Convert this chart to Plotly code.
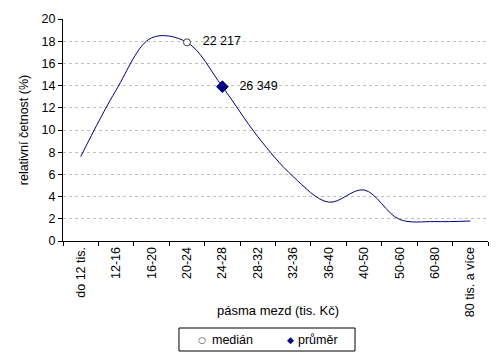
import plotly.graph_objects as go

categories = ["do 12 tis.", "12-16", "16-20", "20-24", "24-28", "28-32", "32-36",
              "36-40", "40-50", "50-60", "60-80", "80 tis. a více"]
values = [7.6, 13.6, 18.3, 17.9, 13.9, 9.4, 5.8, 3.5, 4.6, 1.95, 1.75, 1.8]

median_cat = "20-24"
median_label = "22 217"
mean_cat = "24-28"
mean_label = "26 349"

median_val = values[categories.index(median_cat)]
mean_val = values[categories.index(mean_cat)]

font = "Liberation Sans, Arial, sans-serif"
fs = 12.5

fig = go.Figure()
fig.add_trace(go.Scatter(x=categories, y=values, mode="lines",
                         line=dict(color="#000080", width=1, shape="spline", smoothing=1),
                         showlegend=False, hoverinfo="skip"))
fig.add_trace(go.Scatter(x=[median_cat], y=[median_val], mode="markers+text",
                         name="medián", text=["   " + median_label], textposition="middle right",
                         textfont=dict(size=fs, color="black", family=font),
                         showlegend=False,
                         marker=dict(symbol="circle", size=7, color="white",
                                     line=dict(color="#404040", width=1))))
fig.add_trace(go.Scatter(x=[mean_cat], y=[mean_val], mode="markers+text",
                         name="průměr", text=["   " + mean_label], textposition="middle right",
                         textfont=dict(size=fs, color="black", family=font),
                         showlegend=False,
                         marker=dict(symbol="diamond", size=9, color="#000080",
                                     line=dict(color="#000080", width=1))))

# legend box drawn as shape + annotations (paper coordinates)
legend_items = [
    dict(symbol="○", color="#404040", label="medián", sx=0.3264, tx=0.3459),
    dict(symbol="◆", color="#000080", label="průměr", sx=0.5358, tx=0.5482),
]
ly = -0.4437
annotations = [dict(text="pásma mezd (tis. Kč)", xref="paper", yref="paper",
                    x=0.507, y=-0.311, xanchor="center", yanchor="middle",
                    showarrow=False, font=dict(size=fs + 0.5, family=font))]
for it in legend_items:
    annotations.append(dict(text=it["symbol"], xref="paper", yref="paper", x=it["sx"], y=ly,
                            xanchor="center", yanchor="middle", showarrow=False,
                            font=dict(size=9, color=it["color"], family="DejaVu Sans")))
    annotations.append(dict(text=it["label"], xref="paper", yref="paper", x=it["tx"], y=ly,
                            xanchor="left", yanchor="middle", showarrow=False,
                            font=dict(size=fs, color="black", family=font)))

fig.update_layout(
    width=503, height=359,
    margin=dict(l=63, r=15, t=19, b=118),
    paper_bgcolor="white", plot_bgcolor="white",
    font=dict(family=font, size=fs, color="black"),
    showlegend=False,
    annotations=annotations,
    shapes=[dict(type="rect", xref="paper", yref="paper", x0=0.2729, x1=0.6871,
                 y0=-0.4955, y1=-0.3919, line=dict(color="black", width=1),
                 fillcolor="white", layer="below")],
)
fig.update_xaxes(type="category", categoryorder="array", categoryarray=categories,
                 range=[-0.5, len(categories) - 0.5], tickson="boundaries",
                 ticks="outside", ticklen=4, tickcolor="black", tickangle=-90,
                 showline=True, linecolor="black", linewidth=1, showgrid=False,
                 automargin=False, tickfont=dict(size=fs))
fig.update_yaxes(range=[0, 20], dtick=2, ticks="outside", ticklen=4, tickcolor="black",
                 showline=True, linecolor="black", linewidth=1,
                 showgrid=True, gridcolor="#c0c0c0", griddash="3px,3px", gridwidth=1,
                 zeroline=False, automargin=False,
                 title=dict(text="relativní četnost (%)", font=dict(size=fs), standoff=10),
                 tickfont=dict(size=fs))

fig.write_html("out.html", config={"displayModeBar": False},
               post_script="document.body.style.margin='0';document.body.style.overflow='hidden';")
